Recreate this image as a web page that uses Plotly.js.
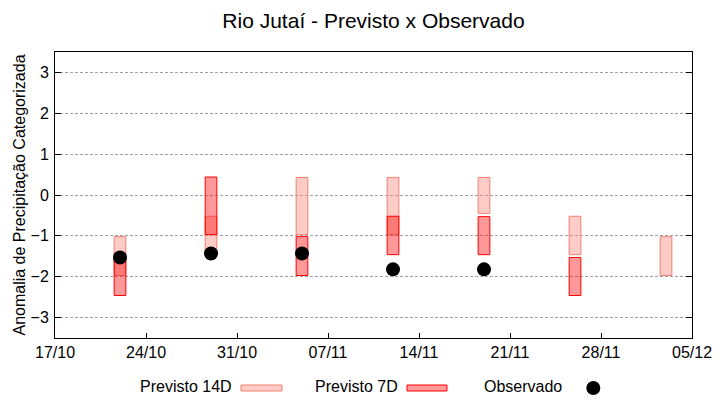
<!DOCTYPE html>
<html>
<head>
<meta charset="utf-8">
<script src="https://cdn.plot.ly/plotly-3.0.1.min.js"></script>
<style>html,body{margin:0;padding:0;background:#fff}#chart{width:720px;height:400px}</style>
</head>
<body>
<div id="chart"></div>
<script>
// Data
var dates = ['2024-10-22','2024-10-29','2024-11-05','2024-11-12','2024-11-19','2024-11-26','2024-12-03'];
var prev14Low  = [-1.97, -1.46, -0.97, -0.97, -0.45, -1.46, -1.97];
var prev14High = [-1.02, -0.52,  0.43,  0.43,  0.43, -0.52, -1.02];
var prev7Low   = [-2.46, -0.97, -1.97, -1.46, -1.46, -2.46, null];
var prev7High  = [-1.53,  0.44, -1.02, -0.52, -0.53, -1.53, null];
var observado  = [-1.53, -1.43, -1.43, -1.82, -1.82, null, null];
var tickDates  = ['2024-10-17','2024-10-24','2024-10-31','2024-11-07','2024-11-14','2024-11-21','2024-11-28','2024-12-05'];
var tickLabels = ['17/10','24/10','31/10','07/11','14/11','21/11','28/11','05/12'];
var yTicks = [-3,-2,-1,0,1,2,3];

var DAY = 86400000;
var FONT = 'Liberation Sans, Arial, sans-serif';

function spans(lo, hi){ return lo.map(function(v,i){ return (v===null||hi[i]===null)?null:hi[i]-v; }); }

var t14 = {
  type:'bar', x:dates, base:prev14Low, y:spans(prev14Low,prev14High),
  width: dates.map(function(){return 0.9*DAY;}),
  marker:{color:'rgba(250,128,114,0.4)', line:{color:'#f08070', width:1}},
  name:'Previsto 14D', showlegend:false, hoverinfo:'skip'
};
var t7 = {
  type:'bar', x:dates, base:prev7Low, y:spans(prev7Low,prev7High),
  width: dates.map(function(){return 0.9*DAY;}),
  marker:{color:'rgba(255,0,0,0.4)', line:{color:'#ff0000', width:1}},
  name:'Previsto 7D', showlegend:false, hoverinfo:'skip'
};
var tobs = {
  type:'scatter', mode:'markers', x:dates, y:observado,
  marker:{color:'#000', size:14, symbol:'circle'},
  name:'Observado', showlegend:false, hoverinfo:'skip'
};

var L=55, R=692, T=52, B=338, W=R-L, H=B-T;
function xp(px){return (px-L)/W;}
function yp(py){return (B-py)/H;}

var layout = {
  width:720, height:400,
  margin:{l:L, r:720-R, t:T, b:400-B},
  paper_bgcolor:'#fff', plot_bgcolor:'#fff',
  font:{family:FONT, size:16, color:'#000'},
  title:{text:'Rio Jutaí - Previsto x Observado', font:{family:FONT, size:21, color:'#000'},
         x:0.5, xref:'paper', xanchor:'center', y:1-21/400, yref:'container', yanchor:'middle'},
  barmode:'overlay', bargap:0,
  xaxis:{type:'date', range:['2024-10-17','2024-12-05'], tickmode:'array', tickvals:tickDates, ticktext:tickLabels,
         showgrid:false, zeroline:false, showline:true, linecolor:'#000', linewidth:1, mirror:true,
         ticks:'inside', ticklen:5, tickcolor:'#000', tickfont:{family:FONT,size:16,color:'#000'}},
  yaxis:{range:[-3.5,3.5], tickmode:'array', tickvals:yTicks, showgrid:true, gridcolor:'#a0a0a0', griddash:'3px,2px', gridwidth:1,
         zeroline:false, showline:true, linecolor:'#000', linewidth:1, mirror:'ticks',
         ticks:'inside', ticklen:6, tickcolor:'#000', ticklabelstandoff:2, tickfont:{family:FONT,size:16,color:'#000'},
         title:{text:'Anomalia de Precipitação Categorizada', font:{family:FONT,size:16,color:'#000'}, standoff:0}},
  showlegend:false,
  annotations:[
    {xref:'paper', yref:'paper', x:xp(234), y:yp(386.5), xanchor:'right', yanchor:'middle', text:'Previsto 14D', showarrow:false, font:{family:FONT,size:16,color:'#000'}},
    {xref:'paper', yref:'paper', x:xp(400), y:yp(386.5), xanchor:'right', yanchor:'middle', text:'Previsto 7D', showarrow:false, font:{family:FONT,size:16,color:'#000'}},
    {xref:'paper', yref:'paper', x:xp(564), y:yp(386.5), xanchor:'right', yanchor:'middle', text:'Observado', showarrow:false, font:{family:FONT,size:16,color:'#000'}}
  ],
  shapes:[
    {type:'rect', xref:'paper', yref:'paper', x0:xp(241), x1:xp(282), y0:yp(385), y1:yp(391), fillcolor:'rgba(250,128,114,0.4)', line:{color:'#f08070', width:1}},
    {type:'rect', xref:'paper', yref:'paper', x0:xp(407), x1:xp(447), y0:yp(385), y1:yp(391), fillcolor:'rgba(255,0,0,0.4)', line:{color:'#ff0000', width:1}},
    {type:'circle', xref:'paper', yref:'paper', xsizemode:'pixel', ysizemode:'pixel', xanchor:xp(593.3), yanchor:yp(388), x0:-7, x1:7, y0:-7, y1:7, fillcolor:'#000', line:{color:'#000', width:0}}
  ]
};

Plotly.newPlot('chart', [t14, t7, tobs], layout, {staticPlot:true, displayModeBar:false});
</script>
</body>
</html>
